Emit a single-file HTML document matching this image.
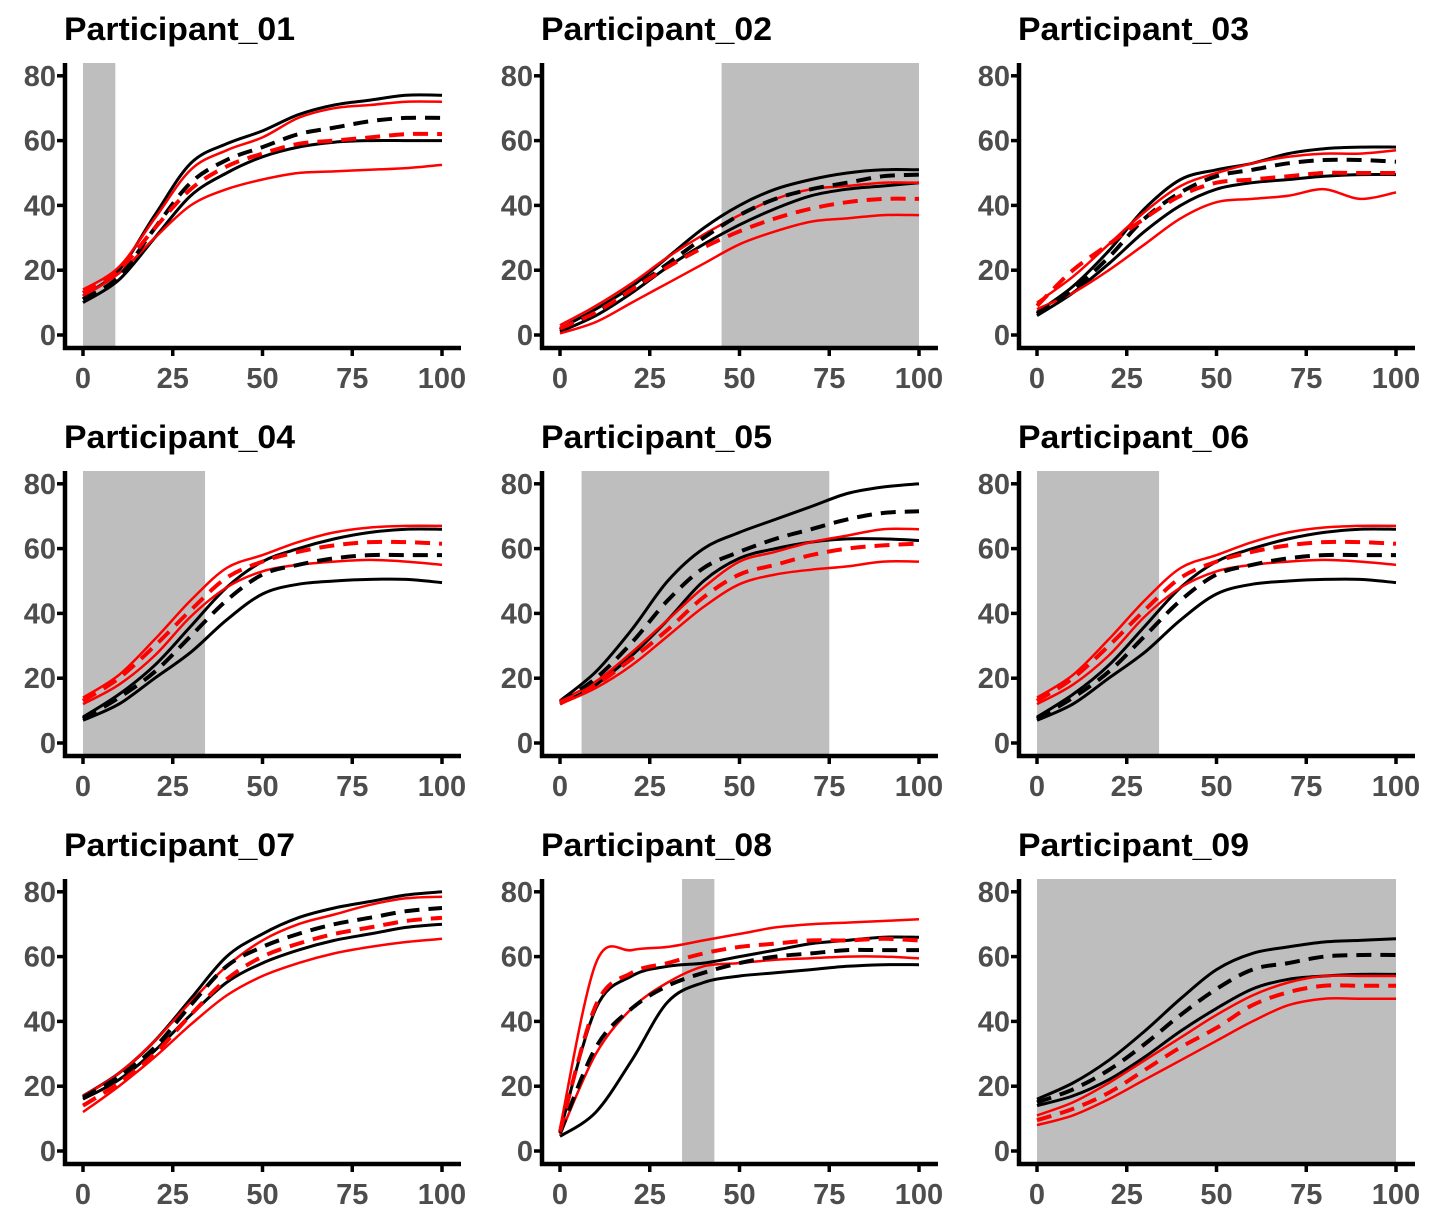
<!DOCTYPE html>
<html><head><meta charset="utf-8"><style>
html,body{margin:0;padding:0;background:#fff;}
svg{display:block;font-family:"Liberation Sans",Arial,sans-serif;}
</style></head><body>
<svg id="chart" width="1430" height="1221" viewBox="0 0 1430 1221" xmlns="http://www.w3.org/2000/svg"></svg>
<script>
const titles = ["Participant_01","Participant_02","Participant_03","Participant_04","Participant_05","Participant_06","Participant_07","Participant_08","Participant_09"];
const xValues = [0,10,20,30,40,50,60,70,80,90,100];
const xTicks = [0,25,50,75,100];
const yTicks = [0,20,40,60,80];
const shadeStart = [0,45,null,0,6,0,null,34,0];
const shadeEnd = [9,100,null,34,75,34,null,43,100];
const blackUpper = [
[12,20,37,53,59,63,68,71,72.5,74,74],
[2,8,15,24,33,40,45,48,50,51,51],
[7,15,26,39,48,51,53,56,57.5,58,58],
[8,15,24,36,48,56,60,63,65,66,66],
[13,22,35,50,60,65,69,73,77,79,80],
[8,15,24,36,48,56,60,63,65,66,66],
[17,24,34,47,60,67,72,75,77,79,80],
[6,44,54,57,58,60,62,64,65,66,66],
[16,21,28,37,47,56,61,63,64.5,65,65.5]];
const blackMean = [
[11,18,33,47,54,58,62,64,66,67,67],
[1.5,7,14,22,30,37,42,45,47,49,49.5],
[6.5,14,24,36,44,49,51,53,54,54,53.5],
[7.5,14,22,33,44,52,55,57,58,58,58],
[12.5,20,31,44,54,59,63,66,69,71,71.5],
[7.5,14,22,33,44,52,55,57,58,58,58],
[16.5,23,32,45,57,63,67,70,72,74,75],
[5.5,32,44,51,55,58,60,61,62,62,62],
[15,19,25,33,42,50,56,58,60,60.5,60.5]];
const blackLower = [
[10,17,30,43,50,55,58,59.5,60,60,60],
[1,6,13,21,28,34,39,43,45,46,47],
[6,13,22,32,40,45,47,48,49,49.5,49.5],
[7,12,20,28,38,46,49,50,50.5,50.5,49.5],
[12,18,27,38,50,57,60,62,63,63,62.5],
[7,12,20,28,38,46,49,50,50.5,50.5,49.5],
[16,22,31,42,52,58,62,65,67,69,70],
[4.5,12,28,46,52,54,55,56,57,57.5,57.5],
[14,17,22,29,37,44,50,53,54,54.5,54.5]];
const redUpper = [
[14,21,36,51,57,61,67,70,71,72,72],
[3,9,16,24,31,37,42,45,46,47,47],
[10,18,28,38,46,50,53,55,56,56,57],
[14,21,32,44,54,58,62,65,66.5,67,67],
[13,19,28,38,48,56,59,62,64,66,66],
[14,21,32,44,54,58,62,65,66.5,67,67],
[17,24,34,46,57,65,70,73,76,78,78.5],
[7,58,62,63,65,67,69,70,70.5,71,71.5],
[11,15,21,28,35,42,48,52,54,54,54]];
const redMean = [
[13,20,33,45,52,56,59,60,61,62,62],
[2,7,14,21,27,32,36,39,41,42,42],
[9,20,28,36,43,47,48,49,50,50,50],
[13,20,30,41,51,56,59,61,62,62,61.5],
[12.5,18,26,35,45,52,55,58,60,61,61.5],
[13,20,30,41,51,56,59,61,62,62,61.5],
[14,21,30,42,53,60,64,67,69,71,72],
[6,45,55,58,61,63,64,65,65,65.5,65],
[9.5,13,18,25,32,38,45,49,51,51,51]];
const redLower = [
[12,19,30,40,45,48,50,50.5,51,51.5,52.5],
[0.5,4,10,16,22,28,32,35,36,37,37],
[8,13,20,28,36,41,42,43,45,42,44],
[12,18,27,39,48,53,55,56,56.5,56,55],
[12,17,24,33,42,49,52,53.5,54.5,56,56],
[12,18,27,39,48,53,55,56,56.5,56,55],
[12,20,29,39,48,54,58,61,63,64.5,65.5],
[5,30,44,52,57,58,59,59.5,60,60,59.5],
[8,11,16,22,28,34,40,45,47,47,47]];

const NS="http://www.w3.org/2000/svg";
const svg=document.getElementById('chart');
function mk(tag,attrs,parent){const e=document.createElementNS(NS,tag);for(const k in attrs)e.setAttribute(k,attrs[k]);parent.appendChild(e);return e;}
function pathD(pts){
  let d="M"+pts[0][0].toFixed(1)+","+pts[0][1].toFixed(1);
  for(let i=0;i<pts.length-1;i++){
    const p0=pts[i-1]||pts[i],p1=pts[i],p2=pts[i+1],p3=pts[i+2]||p2;
    const c1=[p1[0]+(p2[0]-p0[0])/6,p1[1]+(p2[1]-p0[1])/6];
    const c2=[p2[0]-(p3[0]-p1[0])/6,p2[1]-(p3[1]-p1[1])/6];
    d+=" C"+c1[0].toFixed(1)+","+c1[1].toFixed(1)+" "+c2[0].toFixed(1)+","+c2[1].toFixed(1)+" "+p2[0].toFixed(1)+","+p2[1].toFixed(1);
  }
  return d;
}
for(let p=0;p<9;p++){
  const col=p%3,row=Math.floor(p/3);
  const ox=col*477, oy=row*408;
  const xs=v=>ox+83+v*3.59;
  const ys=v=>oy+335-v*3.24;
  const g=mk('g',{},svg);
  
  
  const t=mk('text',{x:ox+64,y:oy+40,'font-size':32,'font-weight':'bold',fill:'#000',textLength:231,lengthAdjust:'spacingAndGlyphs'},g);
  t.textContent=titles[p];
  
  
  if(shadeStart[p]!==null){
    const r=mk('rect',{x:xs(shadeStart[p]),y:oy+63,width:xs(shadeEnd[p])-xs(shadeStart[p]),height:283,fill:'#bebebe'},g);
    
    
  }
  const series=[[blackUpper,'#000',3,null,'black-upper-line'],[blackLower,'#000',3,null,'black-lower-line'],[redUpper,'#ff0000',2.5,null,'red-upper-line'],[redLower,'#ff0000',2.5,null,'red-lower-line'],[blackMean,'#000',4,'15,9','black-mean-line'],[redMean,'#ff0000',4,'15,9','red-mean-line']];
  series.forEach(s=>{
    const pts=xValues.map((x,i)=>[xs(x),ys(s[0][p][i])]);
    const a={d:pathD(pts),fill:'none',stroke:s[1],'stroke-width':s[2]};
    if(s[3])a['stroke-dasharray']=s[3];
    const e=mk('path',a,g);
    
    
  });
  const ya=mk('line',{x1:ox+65,y1:oy+63,x2:ox+65,y2:oy+350,stroke:'#000','stroke-width':4.5},g);
  
  
  const xa=mk('line',{x1:ox+63,y1:oy+348,x2:ox+461,y2:oy+348,stroke:'#000','stroke-width':4.5},g);
  
  
  yTicks.forEach(v=>{
    mk('line',{x1:ox+57,y1:ys(v),x2:ox+65,y2:ys(v),stroke:'#000','stroke-width':3.5},g);
    const l=mk('text',{x:ox+56,y:ys(v)+10,'font-size':29,'font-weight':'bold',fill:'#4d4d4d','text-anchor':'end'},g);
    l.textContent=v;
    
    
  });
  xTicks.forEach(v=>{
    mk('line',{x1:xs(v),y1:oy+348,x2:xs(v),y2:oy+356,stroke:'#000','stroke-width':3.5},g);
    const l=mk('text',{x:xs(v),y:oy+388,'font-size':29,'font-weight':'bold',fill:'#4d4d4d','text-anchor':'middle'},g);
    l.textContent=v;
    
    
  });
}
</script>
</body></html>
